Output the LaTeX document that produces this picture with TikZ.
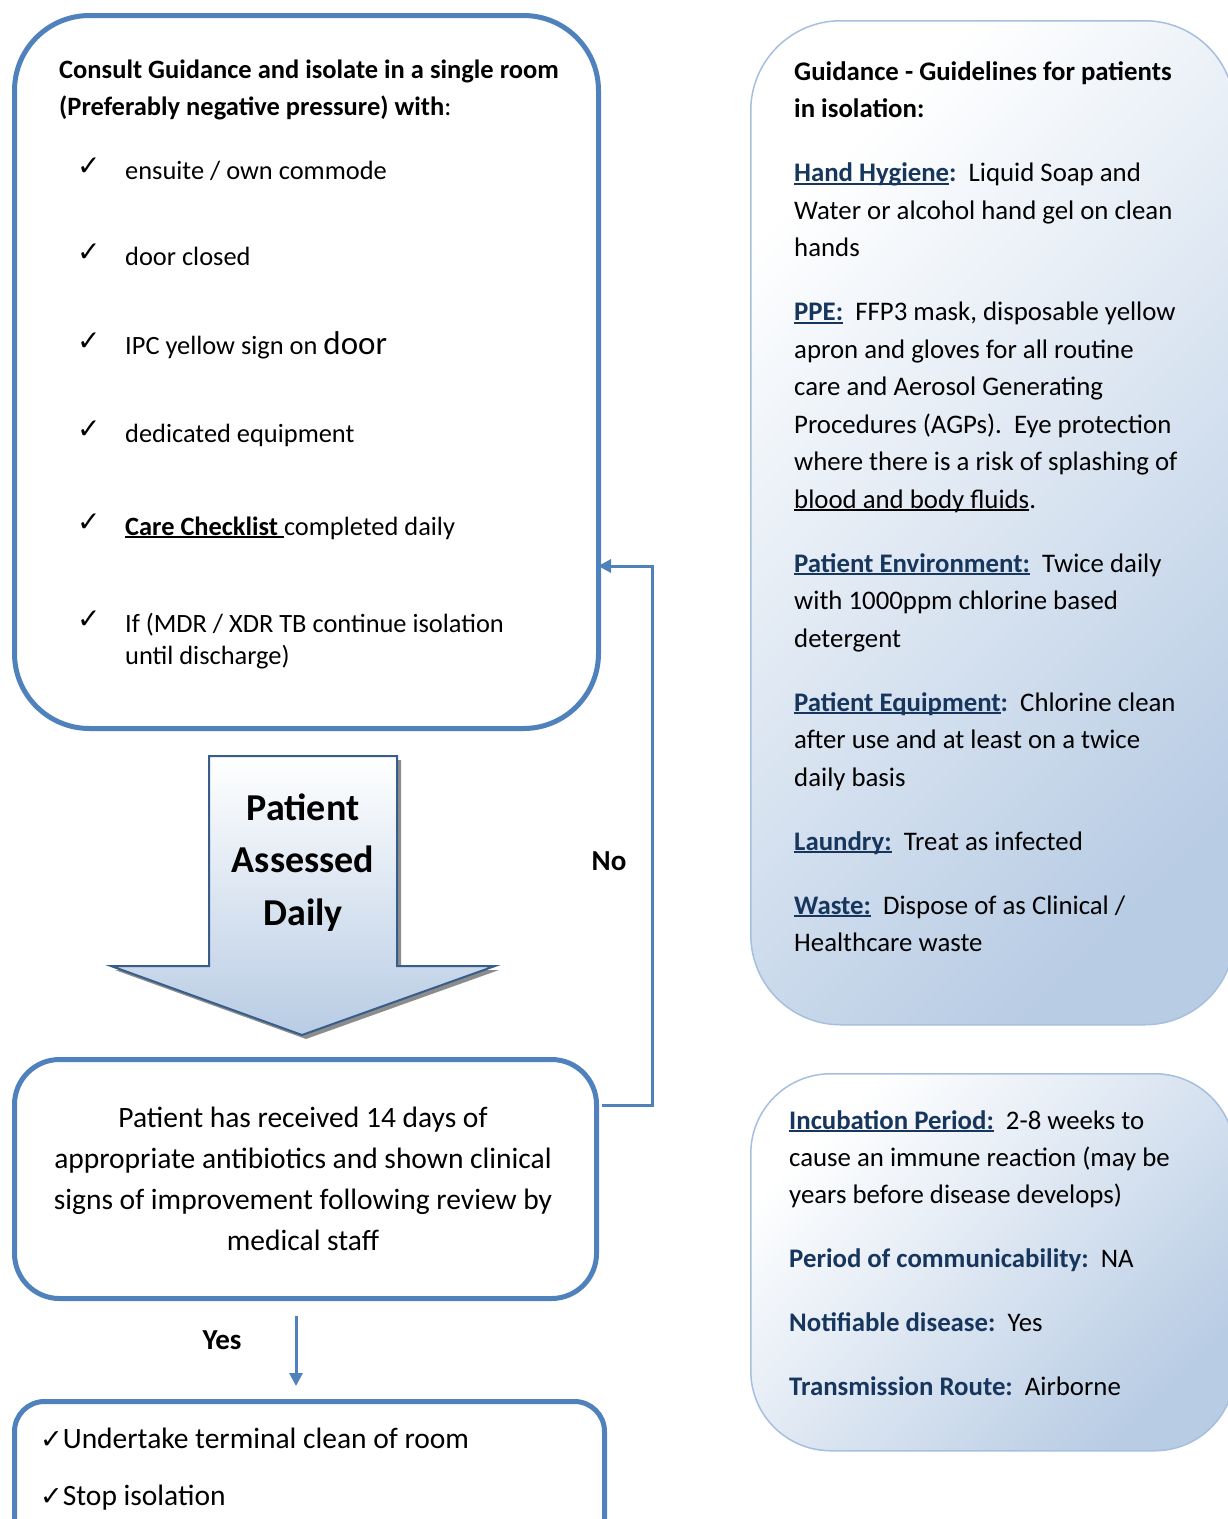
\documentclass[tikz,border=0pt]{standalone}
\usepackage{fontspec}
\setmainfont{Carlito}
\newfontfamily\symf{DejaVu Sans}
\usetikzlibrary{arrows.meta}
\definecolor{boxblue}{HTML}{4F81BD}
\definecolor{darkhead}{HTML}{17365D}
\definecolor{arrowedge}{HTML}{385D8A}
\definecolor{lightfill}{HTML}{B8CCE4}
\definecolor{paleedge}{HTML}{A7BFDE}
\newsavebox\ulbox
\newcommand{\myul}[1]{\leavevmode\sbox\ulbox{#1}\rlap{\rule[-3pt]{\wd\ulbox}{1.7pt}}\usebox\ulbox}
\newcommand{\hdu}[1]{\textcolor{darkhead}{\myul{\textbf{#1}}}}
\newcommand{\hdb}[1]{\textcolor{darkhead}{\textbf{#1}}}
\newcommand{\ck}{{\symf\fontsize{28}{28}\selectfont ✓}}
\tikzset{
  flowbox/.style={draw=boxblue, line width=5pt, inner sep=0pt},
  guidebox/.style={draw=paleedge, line width=1.5pt, inner sep=0pt, top color=white, bottom color=lightfill, shading angle=45},
  txt/.style={inner sep=0pt, anchor=base west},
  itemfont/.style={font=\fontsize{26.4}{30}\selectfont},
  connector/.style={draw=boxblue, line width=3pt, -{Triangle[length=13pt,width=13pt]}},
}
\begin{document}
\begin{tikzpicture}[x=1pt,y=-1pt]
\useasboundingbox (0,0) rectangle (1228,1519);
\clip (0,0) rectangle (1228,1519);

% ---------- left flow boxes ----------
\node[flowbox, rounded corners=75pt, anchor=north west, minimum width=584pt, minimum height=713pt] (b1) at (12,13) {};
\node[flowbox, rounded corners=45pt, anchor=north west, minimum width=582pt, minimum height=239pt] (b2) at (12,1057) {};
\node[flowbox, rounded corners=30pt, anchor=north west, minimum width=590pt, minimum height=200pt] (b3) at (12,1399) {};

% box 1 header
\node[txt] (h1) at (59,78) {\parbox[t]{560pt}{\fontsize{26.5}{37}\selectfont
\textbf{Consult Guidance and isolate in a single room}\\
\textbf{(Preferably negative pressure) with}:}};

% box 1 items
\node[txt] (c1) at (77,175) {\ck};
\node[txt, itemfont] (i1) at (125,179) {ensuite / own commode};
\node[txt] (c2) at (77,261) {\ck};
\node[txt, itemfont] (i2) at (125,265) {door closed};
\node[txt] (c3) at (77,350) {\ck};
\node[txt, itemfont] (i3) at (125,354) {IPC yellow sign on {\fontsize{33}{33}\selectfont door}};
\node[txt] (c4) at (77,438) {\ck};
\node[txt, itemfont] (i4) at (125,442) {dedicated equipment};
\node[txt] (c5) at (77,531) {\ck};
\node[txt, itemfont] (i5) at (125,535) {\myul{\textbf{Care Checklist}\ }completed daily};
\node[txt] (c6) at (77,628) {\ck};
\node[txt] (i6) at (125,632) {\parbox[t]{460pt}{\fontsize{26.4}{32}\selectfont
If (MDR / XDR TB continue isolation\\ until discharge)}};

% ---------- big down arrow ----------
\fill[black!45] (213,760) -- (401,760) -- (401,970) -- (499,970) -- (306,1039) -- (115,970) -- (213,970) -- cycle;
\path[draw=arrowedge, line width=2pt, top color=white, bottom color=lightfill]
  (209,756) -- (397,756) -- (397,966) -- (495,966) -- (302,1035) -- (111,966) -- (209,966) -- cycle;
\node[inner sep=0pt, anchor=base] (pad) at (303,820) {\parbox[t]{220pt}{\centering\fontsize{38}{52.5}\selectfont\bfseries
Patient\\ Assessed\\ Daily}};

% box 2 text
\node[inner sep=0pt, anchor=base] (t2) at (303,1127) {\parbox[t]{570pt}{\centering\fontsize{29.5}{41.3}\selectfont
Patient has received 14 days of\\
appropriate antibiotics and shown clinical\\
signs of improvement following review by\\
medical staff}};

% box 3 text
\node[txt] (t3) at (40,1448) {\parbox[t]{550pt}{\fontsize{29.5}{57}\selectfont
{\symf\fontsize{27}{27}\selectfont ✓}Undertake terminal clean of room\\
{\symf\fontsize{27}{27}\selectfont ✓}Stop isolation}};

% ---------- connectors ----------
\coordinate (nostart) at ([xshift=3pt]b2.east);
\coordinate (noturn) at (652,566);
\draw[connector, shorten >=-3pt] (nostart |- 0,1105) -| (noturn) -- (b1.east |- noturn);
\node[inner sep=0pt, anchor=base, font=\fontsize{29}{29}\selectfont\bfseries] (nolbl) at (609,870) {No};

\draw[connector, shorten <=15pt, shorten >=13pt] (b2.south -| 296,0) -- (b3.north -| 296,0);
\node[inner sep=0pt, anchor=base, font=\fontsize{29}{29}\selectfont\bfseries] (yeslbl) at (222,1349) {Yes};

% ---------- right guidance boxes ----------
\node[guidebox, rounded corners=90pt, anchor=north west, minimum width=484pt, minimum height=1004pt] (g1) at (750,20) {};
\node[guidebox, rounded corners=80pt, anchor=north west, minimum width=484pt, minimum height=377pt] (g2) at (750,1073) {};

\node[txt] (gt1) at (794,80) {\parbox[t]{600pt}{\raggedright\fontsize{26.8}{37.5}\selectfont
\textbf{Guidance - Guidelines for patients}\\
\textbf{in isolation:}\\[26.5pt]
\hdu{Hand Hygiene}\hdb{:}\ \ Liquid Soap and\\
Water or alcohol hand gel on clean\\
hands\\[26.5pt]
\hdu{PPE:}\ \ FFP3 mask, disposable yellow\\
apron and gloves for all routine\\
care and Aerosol Generating\\
Procedures (AGPs).\ \ Eye protection\\
where there is a risk of splashing of\\
\myul{blood and body fluids}.\\[26.5pt]
\hdu{Patient Environment:}\ \ Twice daily\\
with 1000ppm chlorine based\\
detergent\\[26.5pt]
\hdu{Patient Equipment}\hdb{:}\ \ Chlorine clean\\
after use and at least on a twice\\
daily basis\\[26.5pt]
\hdu{Laundry:}\ \ Treat as infected\\[26.5pt]
\hdu{Waste:}\ \ Dispose of as Clinical /\\
Healthcare waste}};

\node[txt] (gt2) at (789,1129) {\parbox[t]{600pt}{\raggedright\fontsize{26.8}{37}\selectfont
\hdu{Incubation Period:}\ \ 2-8 weeks to\\
cause an immune reaction (may be\\
years before disease develops)\\[27pt]
\hdb{Period of communicability:}\ \ NA\\[27pt]
\hdb{Notifiable disease:}\ \ Yes\\[27pt]
\hdb{Transmission Route:}\ \ Airborne}};
\end{tikzpicture}
\end{document}
